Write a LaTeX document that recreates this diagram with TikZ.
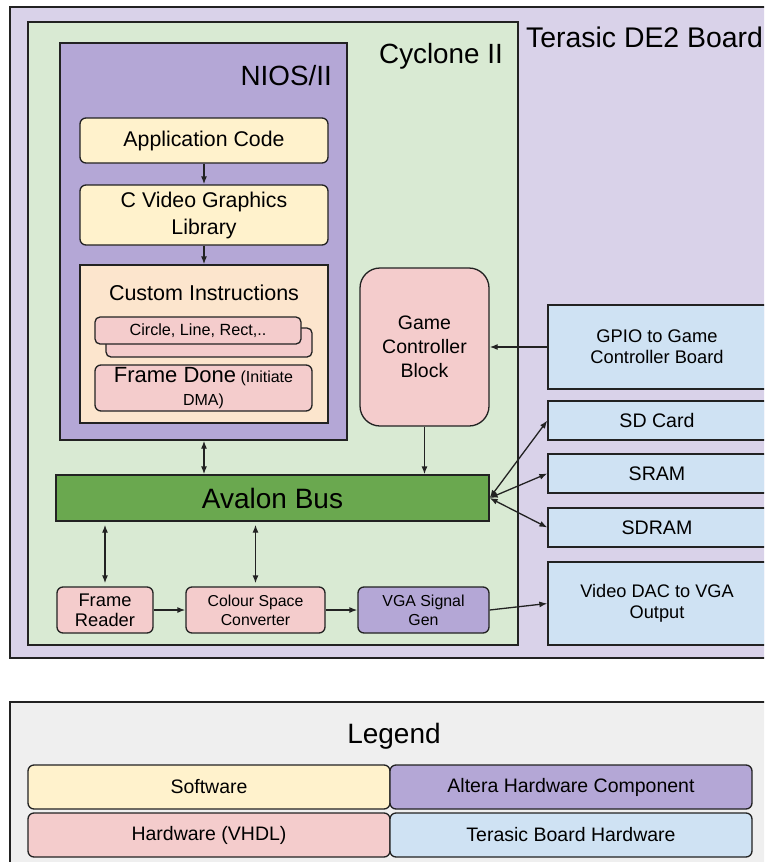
\documentclass[tikz,border=0pt]{standalone}
\usepackage{fontspec}
\setmainfont{Liberation Sans}
\usetikzlibrary{arrows.meta}
\definecolor{boardc}{HTML}{D9D2E9}
\definecolor{cyclc}{HTML}{D9EAD3}
\definecolor{niosc}{HTML}{B4A7D6}
\definecolor{softc}{HTML}{FFF2CC}
\definecolor{peachc}{HTML}{FCE5CD}
\definecolor{pinkc}{HTML}{F4CCCC}
\definecolor{bluec}{HTML}{CFE2F3}
\definecolor{busc}{HTML}{6AA84F}
\definecolor{legc}{HTML}{EFEFEF}
\definecolor{linec}{HTML}{222222}
\newcommand\fsz[2]{\fontsize{#1}{#2}\selectfont}
\begin{document}
\begin{tikzpicture}[x=1pt,y=-1pt,
  box/.style={draw=linec, line width=1.3pt, inner sep=0pt, align=center},
  rbox/.style={box, rounded corners=6pt},
  lbl/.style={inner sep=0pt, text=black},
  arr/.style={draw=linec, line width=1.3pt, -{Latex[length=8pt,width=6pt]}},
  dbl/.style={draw=linec, line width=1.3pt, {Latex[length=8pt,width=6pt]}-{Latex[length=8pt,width=6pt]}}]
\useasboundingbox (0,0) rectangle (764,862);
\clip (0,0) rectangle (764,862);
\fill[white] (0,0) rectangle (764,862);

% containers
\node[box, fill=boardc, minimum width=770pt, minimum height=651pt] (board) at (395,332.5) {};
\node[lbl, anchor=base west, font=\fsz{28.4}{32}] (boardlbl) at (526,47) {Terasic DE2 Board};
\node[box, fill=cyclc, minimum width=490pt, minimum height=623pt] (cyc) at (273,333.5) {};
\node[lbl, anchor=base east, font=\fsz{27.8}{32}] (cyclbl) at (503,63) {Cyclone II};
\node[box, fill=niosc, minimum width=287pt, minimum height=397pt] (nios) at (203.5,241.5) {};
\node[lbl, anchor=base east, font=\fsz{27.8}{32}] (nioslbl) at (332,85) {NIOS/II};

% software
\node[rbox, fill=softc, minimum width=248pt, minimum height=45pt, font=\fsz{21.3}{26}] (app) at (204,140.5) {Application Code};
\node[rbox, fill=softc, minimum width=248pt, minimum height=60pt, font=\fsz{21.3}{27}] (cvid) at (204,215) {C Video Graphics\\Library};

% custom instructions
\node[box, fill=peachc, minimum width=248pt, minimum height=158pt] (ci) at (204,344) {};
\node[lbl, font=\fsz{21.5}{26}] (cilbl) at (204,293) {Custom Instructions};
\node[rbox, rounded corners=5pt, fill=pinkc, minimum width=206pt, minimum height=29pt] (circ2) at (209,342.5) {};
\node[rbox, rounded corners=5pt, fill=pinkc, minimum width=206pt, minimum height=27pt, font=\fsz{16.2}{19}] (circ) at (198,330.5) {Circle, Line, Rect,..};
\node[rbox, fill=pinkc, minimum width=217pt, minimum height=46pt, font=\fsz{16}{23}] (fdone) at (203.5,388) {\raisebox{-2.5pt}{\parbox{200pt}{\centering{\fsz{22}{23}Frame Done} (Initiate\\DMA)}}};

% hardware in cyclone
\node[box, rounded corners=20pt, fill=pinkc, minimum width=129pt, minimum height=158pt, font=\fsz{19.5}{24}] (gc) at (424.5,347) {\raisebox{-2pt}{\parbox{120pt}{\centering Game\\Controller\\Block}}};
\node[box, fill=busc, minimum width=433pt, minimum height=46pt, font=\fsz{28}{32}] (bus) at (272.5,498) {Avalon Bus};
\node[rbox, fill=pinkc, minimum width=96pt, minimum height=46pt, font=\fsz{18.3}{20}] (fr) at (105,610) {Frame\\Reader};
\node[rbox, fill=pinkc, minimum width=139pt, minimum height=46pt, font=\fsz{15.8}{19}] (cs) at (255.5,610) {Colour Space\\Converter};
\node[rbox, fill=niosc, minimum width=131pt, minimum height=46pt, font=\fsz{15.9}{19}] (vga) at (423.5,610) {VGA Signal\\Gen};

% board hardware
\node[box, fill=bluec, minimum width=218pt, minimum height=84pt, font=\fsz{18.3}{21}] (gpio) at (657,347) {GPIO to Game\\Controller Board};
\node[box, fill=bluec, minimum width=218pt, minimum height=39pt, font=\fsz{19.6}{22}] (sd) at (657,420.5) {SD Card};
\node[box, fill=bluec, minimum width=218pt, minimum height=39pt, font=\fsz{19.6}{22}] (sram) at (657,473.5) {SRAM};
\node[box, fill=bluec, minimum width=218pt, minimum height=39pt, font=\fsz{19.6}{22}] (sdram) at (657,527.5) {SDRAM};
\node[box, fill=bluec, minimum width=218pt, minimum height=83pt, font=\fsz{18.2}{21}] (dac) at (657,603.5) {\raisebox{-2pt}{\parbox{200pt}{\centering Video DAC to VGA\\Output}}};

% connectors
\draw[arr] (app.south) -- (cvid.north);
\draw[arr] (cvid.south) -- (ci.north);
\draw[dbl] (app.south |- nios.south) -- (app.south |- bus.north);
\draw[arr] (gc.south) -- (gc.south |- bus.north);
\draw[arr] (gpio.west) -- (gpio.west -| gc.east);
\draw[dbl] (bus.east) -- (sd.west);
\draw[dbl] (bus.east) -- (sram.west);
\draw[dbl] (bus.east) -- (sdram.west);
\draw[dbl] ([yshift=-3pt]fr.north |- bus.south) -- ([yshift=3pt]fr.north);
\draw[dbl] ([yshift=-3pt]cs.north |- bus.south) -- ([yshift=3pt]cs.north);
\draw[arr] (fr.east) -- (cs.west);
\draw[arr] (cs.east) -- (vga.west);
\draw[arr] (vga.east) -- (dac.west);

% legend
\node[box, fill=legc, minimum width=768pt, minimum height=190pt] (legend) at (394,797) {};
\node[lbl, anchor=base, font=\fsz{28}{32}] (leglbl) at (394,743) {Legend};
\node[rbox, fill=softc, minimum width=362pt, minimum height=44pt, font=\fsz{19.5}{22}] (lsoft) at (209,787) {Software};
\node[rbox, fill=niosc, minimum width=362pt, minimum height=44pt, font=\fsz{19.5}{22}] (lalt) at (571,787) {Altera Hardware Component};
\node[rbox, fill=pinkc, minimum width=362pt, minimum height=44pt, font=\fsz{19.5}{22}] (lhw) at (209,835) {Hardware (VHDL)};
\node[rbox, fill=bluec, minimum width=362pt, minimum height=44pt, font=\fsz{19.5}{22}] (lter) at (571,835) {Terasic Board Hardware};
\end{tikzpicture}
\end{document}
